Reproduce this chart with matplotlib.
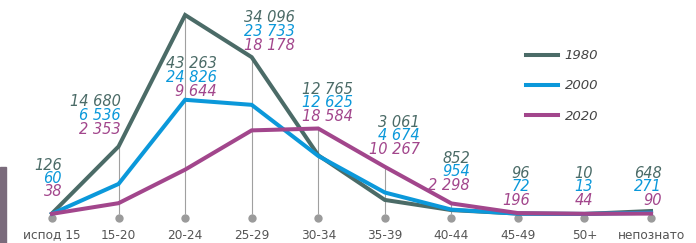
import matplotlib
matplotlib.use('Agg')
import matplotlib.pyplot as plt
import matplotlib.transforms as mtransforms
from matplotlib.patches import Rectangle

categories = ['испод 15', '15-20', '20-24', '25-29', '30-34',
              '35-39', '40-44', '45-49', '50+', 'непознато']
years = ['1980', '2000', '2020']
v1980 = [126, 14680, 43263, 34096, 12765, 3061, 852, 96, 10, 648]
v2000 = [60, 6536, 24826, 23733, 12625, 4674, 954, 72, 13, 271]
v2020 = [38, 2353, 9644, 18178, 18584, 10267, 2298, 196, 44, 90]
colors = ['#4b6b67', '#0b98da', '#a2468c']

# label block placement in pixels (right edge, centre of first row)
label_right = [62, 121, 217, 295, 353, 420, 470, 530, 593, 662]
label_top = [165, 102, 64, 18, 89, 122, 158, 173, 173, 173]

W, H = 696, 243
fig = plt.figure(figsize=(W / 100, H / 100), dpi=100)
ax = fig.add_axes([0, 0, 1, 1])

step = 66.56
x0 = 52
base = 214
scale = 43263 / 199
ax.set_xlim(-x0 / step, (W - x0) / step)
ax.set_ylim(-(H - base) * scale, base * scale)
ax.axis('off')

x = list(range(len(categories)))
series = [v1980, v2000, v2020]
tops = [max(vals) for vals in zip(*series)]

dot_shift = ax.transData + mtransforms.ScaledTranslation(0, -4 / 100, fig.dpi_scale_trans)
ax.vlines(x, 0, tops, color='#a0a0a0', lw=0.8, zorder=1)
ax.plot(x, [0] * len(x), 'o', color='#9b9b9b', ms=6, mec='none',
        transform=dot_shift, zorder=2)

for vals, c, yr in zip(series, colors, years):
    ax.plot(x, vals, color=c, lw=2.9, solid_joinstyle='miter', label=yr, zorder=3)

def fmt(v):
    return f'{v:,}'.replace(',', ' ')

for i in range(len(categories)):
    for k, (vals, c) in enumerate(zip(series, colors)):
        fig.text(label_right[i] / W, 1 - (label_top[i] + k * 13.5) / H,
                 fmt(vals[i]), color=c, fontsize=10.5, style='italic',
                 ha='right', va='center')
    fig.text((x0 + i * step) / W, 1 - 235 / H, categories[i],
             color='#555555', fontsize=8.7, ha='center', va='center')

leg = ax.legend(loc='upper left', bbox_to_anchor=(521 / W, 1 - 44 / H),
                frameon=False, handlelength=2.4, handletextpad=0.5,
                labelspacing=1.3, fontsize=9.5, borderaxespad=0)
for t in leg.get_texts():
    t.set_color('#444444')
    t.set_style('italic')

fig.patches.append(Rectangle((0, 0), 6 / W, (H - 167) / H, transform=fig.transFigure,
                             color='#7a6b7b', zorder=0))

plt.savefig('out.png', dpi=100)
